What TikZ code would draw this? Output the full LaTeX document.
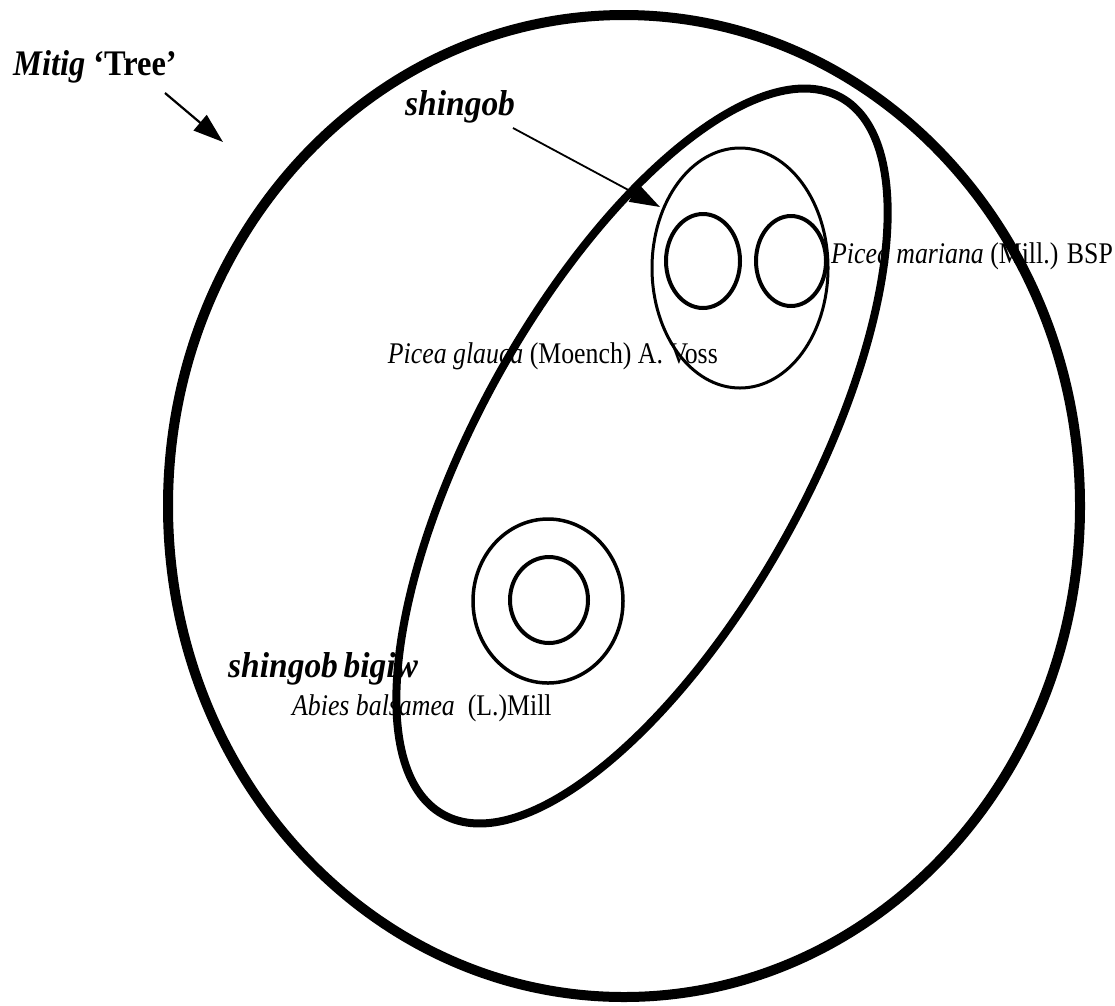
\documentclass[tikz,border=0pt]{standalone}
\usepackage{fontspec}
\setmainfont{Liberation Serif}
\usepackage{graphicx}
\usetikzlibrary{arrows.meta}
\begin{document}
\begin{tikzpicture}[x=1pt,y=-1pt,
  boldlabel/.style={anchor=base west, inner sep=0pt, font=\fontsize{36}{40}\selectfont\bfseries},
  specieslabel/.style={inner sep=0pt, font=\fontsize{30}{34}\selectfont},
  pointer/.style={line width=2.2pt, -{Triangle[length=30pt,width=20pt]}},
  bigset/.style={line width=10pt},
  midset/.style={line width=8pt},
  thinset/.style={line width=3pt},
  smallset/.style={line width=4pt}]
\useasboundingbox (0,0) rectangle (1115,1005);
% sets
\draw[bigset] (624,506) ellipse [x radius=456pt, y radius=491pt];
\draw[midset, rotate around={61:(642,456)}] (642,456) ellipse [x radius=410pt, y radius=165pt];
\draw[thinset] (740,268) ellipse [x radius=88pt, y radius=120pt];
\draw[smallset] (703,261) ellipse [x radius=37pt, y radius=47pt];
\draw[smallset] (791,261) ellipse [x radius=35pt, y radius=45pt];
\draw[thinset, line width=3.5pt] (548,601) ellipse [x radius=75pt, y radius=82pt];
\draw[smallset] (549,600) ellipse [x radius=39pt, y radius=43pt];
% labels
\node[boldlabel] (mitig) at (13,75) {\scalebox{0.9}[1]{\textit{Mitig} `Tree'}};
\node[boldlabel] (shingob) at (405,115) {\scalebox{0.93}[1]{\textit{shingob}}};
\node[boldlabel] (bigiw) at (228,677) {\scalebox{0.93}[1]{\textit{shingob\,bigiw}}};
\node[specieslabel, anchor=base west] (abies) at (292,715) {\scalebox{0.86}[1]{\textit{Abies balsamea}\ \ (L.)Mill}};
\node[specieslabel, anchor=base west] (mariana) at (831,263) {\scalebox{0.86}[1]{\textit{Picea mariana} (Mill.) BSP}};
\node[specieslabel, anchor=base east] (glauca) at (718,363) {\scalebox{0.86}[1]{\textit{Picea glauca} (Moench) A. Voss}};
% pointers
\coordinate (mitigStart) at (165,93);
\coordinate (mitigTip) at (223,142);
\coordinate (shingobStart) at (513,128);
\coordinate (shingobTip) at (660,207);
\draw[pointer] (mitigStart) -- (mitigTip);
\draw[pointer, line width=1.8pt] (shingobStart) -- (shingobTip);
\end{tikzpicture}
\end{document}
